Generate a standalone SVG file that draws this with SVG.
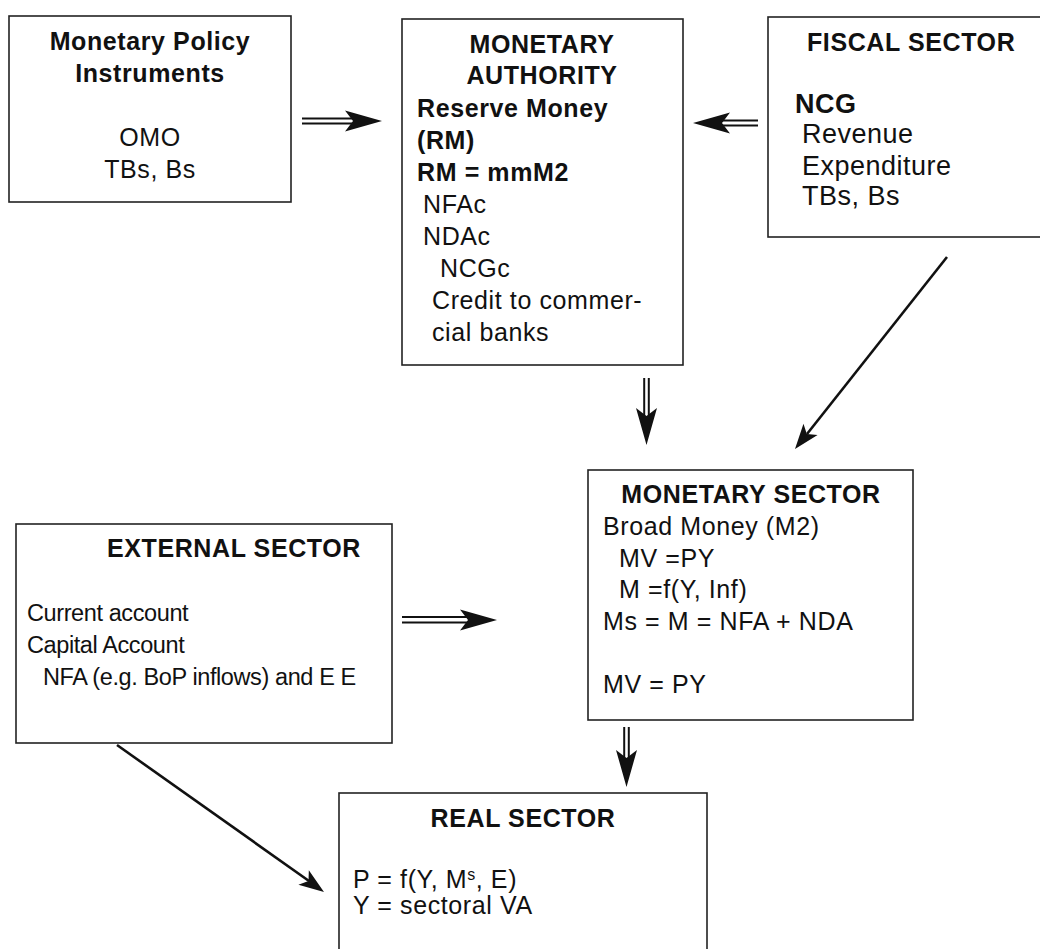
<svg xmlns="http://www.w3.org/2000/svg" xmlns:xlink="http://www.w3.org/1999/xlink" width="1040" height="949" viewBox="0 0 1040 949">
<style>
  .box { fill: #ffffff; stroke: #222222; stroke-width: 1.6; }
  text { font-family: "Liberation Sans", Arial, Helvetica, sans-serif; font-size: 25px; fill: #111111; letter-spacing: 0.6px; }
  .b { font-weight: bold; }
  .c { text-anchor: middle; }
  .lg { font-size: 27px; letter-spacing: 0.5px; }
  .sm { font-size: 23.5px; letter-spacing: -0.4px; }
  .dl { stroke: #111111; stroke-width: 2; fill: none; }
  .sl { stroke: #111111; stroke-width: 2.6; fill: none; }
</style>
<defs>
  <path id="bighead" d="M0,0 L-37,-10.5 L-29,0 L-37,10.5 Z" fill="#111111"/>
  <path id="smallhead" d="M0,0 L-25,-9 L-19,0 L-25,9 Z" fill="#111111"/>
</defs>
<rect width="1040" height="949" fill="#ffffff"/>

<g id="node-instruments">
  <rect class="box" x="9" y="16" width="282" height="186"/>
  <text class="b c" x="150" y="50">Monetary Policy</text>
  <text class="b c" x="150" y="82">Instruments</text>
  <text class="c" x="150" y="146">OMO</text>
  <text class="c" x="150" y="178">TBs, Bs</text>
</g>

<g id="node-monetary-authority">
  <rect class="box" x="402" y="19" width="281" height="346"/>
  <text class="b c" x="542" y="53">MONETARY</text>
  <text class="b c" x="542" y="84">AUTHORITY</text>
  <text class="b" x="417" y="117">Reserve Money</text>
  <text class="b" x="417" y="149">(RM)</text>
  <text class="b" x="417" y="181">RM = mmM2</text>
  <text x="423" y="213">NFAc</text>
  <text x="423" y="245">NDAc</text>
  <text x="440" y="277">NCGc</text>
  <text x="432" y="309">Credit to commer-</text>
  <text x="432" y="341">cial banks</text>
</g>

<g id="node-fiscal">
  <rect class="box" x="768" y="17" width="280" height="220"/>
  <text class="b" x="807" y="51">FISCAL SECTOR</text>
  <text class="b lg" x="795" y="113">NCG</text>
  <text class="lg" x="802" y="143">Revenue</text>
  <text class="lg" x="802" y="175">Expenditure</text>
  <text class="lg" x="802" y="205">TBs, Bs</text>
</g>

<g id="node-monetary-sector">
  <rect class="box" x="588" y="470" width="325" height="250"/>
  <text class="b c" x="751" y="503">MONETARY SECTOR</text>
  <text x="603" y="535">Broad Money (M2)</text>
  <text x="619" y="567">MV =PY</text>
  <text x="619" y="598">M =f(Y, Inf)</text>
  <text x="603" y="630">Ms = M = NFA + NDA</text>
  <text x="603" y="693">MV = PY</text>
</g>

<g id="node-external">
  <rect class="box" x="16" y="524" width="376" height="219"/>
  <text class="b" x="107" y="557">EXTERNAL SECTOR</text>
  <text class="sm" x="27" y="621">Current account</text>
  <text class="sm" x="27" y="653">Capital Account</text>
  <text class="sm" x="43" y="685">NFA (e.g. BoP inflows) and E E</text>
</g>

<g id="node-real">
  <rect class="box" x="339" y="793" width="368" height="170"/>
  <text class="b c" x="523" y="827">REAL SECTOR</text>
  <text x="353" y="888">P = f(Y, M<tspan font-size="16" dy="-8">s</tspan><tspan dy="8">, E)</tspan><tspan x="353" dy="26">Y = sectoral VA</tspan></text>
</g>

<g id="connectors">
  <line class="dl" x1="302" y1="118.5" x2="352" y2="118.5"/>
  <line class="dl" x1="302" y1="123.5" x2="352" y2="123.5"/>
  <use xlink:href="#bighead" transform="translate(382,121)"/>

  <line class="dl" x1="758" y1="120.5" x2="716" y2="120.5"/>
  <line class="dl" x1="758" y1="125.5" x2="716" y2="125.5"/>
  <use xlink:href="#bighead" transform="translate(693,123) rotate(180)"/>

  <line class="dl" x1="644.2" y1="378" x2="644.2" y2="418"/>
  <line class="dl" x1="648.8" y1="378" x2="648.8" y2="418"/>
  <use xlink:href="#bighead" transform="translate(646.5,445) rotate(90)"/>

  <line class="sl" x1="947" y1="257" x2="807" y2="434"/>
  <use xlink:href="#smallhead" transform="translate(795,449) rotate(128.4)"/>

  <line class="dl" x1="402" y1="617" x2="472" y2="617"/>
  <line class="dl" x1="402" y1="622.5" x2="472" y2="622.5"/>
  <use xlink:href="#bighead" transform="translate(497,620)"/>

  <line class="dl" x1="624.2" y1="727" x2="624.2" y2="762"/>
  <line class="dl" x1="628.8" y1="727" x2="628.8" y2="762"/>
  <use xlink:href="#bighead" transform="translate(626.5,787) rotate(90)"/>

  <line class="sl" x1="117" y1="745" x2="309" y2="881"/>
  <use xlink:href="#smallhead" transform="translate(324,892) rotate(35.4)"/>
</g>
</svg>
